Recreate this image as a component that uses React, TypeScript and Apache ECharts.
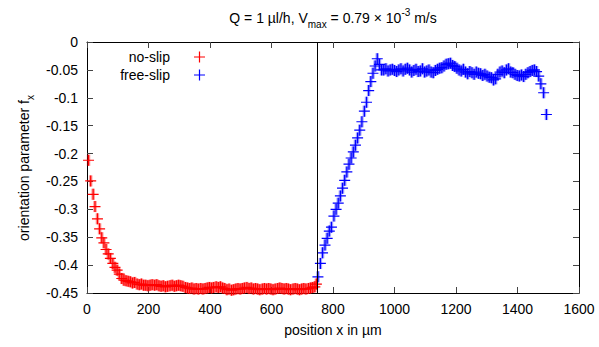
import React, { useEffect, useRef } from "react";
import * as echarts from "echarts";

const noSlipX = [5, 12, 20, 26, 34, 41, 48, 55, 62, 69, 76, 84, 91, 98, 105, 113, 120, 127, 134, 141, 148, 155, 163, 170, 177, 184, 191, 198, 205, 212, 220, 227, 234, 241, 248, 255, 262, 270, 277, 284, 291, 298, 305, 312, 320, 327, 334, 341, 348, 355, 362, 370, 377, 384, 391, 398, 405, 412, 420, 427, 434, 441, 448, 455, 462, 470, 477, 484, 491, 498, 505, 512, 520, 527, 534, 541, 548, 555, 562, 570, 577, 584, 591, 598, 605, 612, 620, 627, 634, 641, 648, 655, 662, 670, 677, 684, 691, 698, 705, 712, 720, 727, 734, 741, 746];
const noSlipY = [-0.212, -0.249, -0.273, -0.295, -0.317, -0.335, -0.351, -0.36, -0.372, -0.38, -0.388, -0.397, -0.404, -0.409, -0.416, -0.424, -0.427, -0.428, -0.429, -0.43, -0.432, -0.431, -0.434, -0.435, -0.434, -0.436, -0.436, -0.437, -0.436, -0.435, -0.436, -0.435, -0.437, -0.438, -0.437, -0.439, -0.438, -0.437, -0.436, -0.438, -0.437, -0.436, -0.437, -0.438, -0.44, -0.441, -0.442, -0.441, -0.443, -0.442, -0.443, -0.442, -0.443, -0.442, -0.441, -0.44, -0.441, -0.44, -0.439, -0.44, -0.439, -0.441, -0.442, -0.444, -0.443, -0.445, -0.444, -0.443, -0.442, -0.443, -0.442, -0.441, -0.44, -0.442, -0.441, -0.443, -0.442, -0.443, -0.444, -0.443, -0.442, -0.443, -0.442, -0.443, -0.444, -0.443, -0.442, -0.441, -0.442, -0.443, -0.442, -0.443, -0.444, -0.443, -0.442, -0.443, -0.444, -0.443, -0.442, -0.443, -0.442, -0.441, -0.44, -0.439, -0.434];

const freeSlipX = [751, 759, 766, 774, 781, 788, 795, 803, 810, 817, 824, 831, 838, 845, 852, 859, 866, 873, 880, 887, 894, 902, 909, 916, 923, 930, 937, 944, 951, 958, 965, 972, 979, 986, 993, 1000, 1007, 1014, 1021, 1028, 1035, 1042, 1049, 1056, 1063, 1070, 1077, 1084, 1091, 1098, 1105, 1112, 1119, 1126, 1133, 1140, 1147, 1154, 1161, 1168, 1175, 1182, 1189, 1196, 1203, 1210, 1217, 1224, 1231, 1238, 1245, 1252, 1259, 1266, 1273, 1280, 1287, 1294, 1301, 1308, 1315, 1322, 1329, 1336, 1343, 1350, 1357, 1364, 1371, 1378, 1385, 1392, 1399, 1406, 1413, 1420, 1427, 1434, 1441, 1448, 1455, 1462, 1469, 1476, 1485, 1494];
const freeSlipY = [-0.421, -0.397, -0.378, -0.364, -0.352, -0.339, -0.332, -0.312, -0.3, -0.289, -0.276, -0.262, -0.248, -0.233, -0.219, -0.208, -0.197, -0.185, -0.172, -0.158, -0.143, -0.124, -0.108, -0.087, -0.071, -0.056, -0.043, -0.03, -0.04, -0.05, -0.05, -0.048, -0.052, -0.05, -0.049, -0.051, -0.053, -0.05, -0.048, -0.052, -0.049, -0.047, -0.05, -0.054, -0.051, -0.049, -0.053, -0.052, -0.048, -0.054, -0.052, -0.05, -0.054, -0.055, -0.051, -0.049, -0.047, -0.046, -0.043, -0.04, -0.039, -0.038, -0.042, -0.044, -0.047, -0.05, -0.052, -0.049, -0.054, -0.057, -0.053, -0.055, -0.058, -0.054, -0.056, -0.057, -0.06, -0.058, -0.061, -0.063, -0.064, -0.068, -0.066, -0.058, -0.054, -0.052, -0.055, -0.05, -0.048, -0.054, -0.055, -0.058, -0.06, -0.061, -0.059, -0.062, -0.058, -0.055, -0.053, -0.051, -0.05, -0.053, -0.061, -0.075, -0.091, -0.13];

const ERR_NO_SLIP = 0.01;
const ERR_FREE_SLIP = 0.01;
const SLIP_BOUNDARY = 750;

const xTicks = { min: 0, max: 1600, interval: 200 };
const yTicks = { min: -0.45, max: 0, interval: 0.05 };

const FONT = "Liberation Sans, Arial, sans-serif";
const FS = 14;
const CROSS = "path://M0,4.45H10V5.55H0Z M4.45,0H5.55V10H4.45Z";

function pairs(xs: number[], ys: number[]) {
  return xs.map((x, i) => [x, ys[i]]);
}

function errorBars(data: number[][], err: number, color: string) {
  return {
    type: "custom",
    silent: true,
    data,
    z: 1,
    renderItem: (_p: any, api: any) => {
      const x = api.value(0);
      const y = api.value(1);
      const a = api.coord([x, y - err]);
      const b = api.coord([x, y + err]);
      return {
        type: "line",
        shape: { x1: a[0], y1: a[1], x2: b[0], y2: b[1] },
        style: { stroke: color, lineWidth: 3.5 },
      };
    },
  };
}

export default function App() {
  const ref = useRef<HTMLDivElement>(null);
  useEffect(() => {
    document.body.style.margin = "0";
    const chart = echarts.init(ref.current!, null, { renderer: "svg" });
    const noSlip = pairs(noSlipX, noSlipY);
    const freeSlip = pairs(freeSlipX, freeSlipY);
    const axisLine = { show: true, onZero: false, lineStyle: { color: "#000", width: 1 } };
    const tick = { show: true, inside: true, length: 6, lineStyle: { color: "#444", width: 1 } };
    const label = { fontSize: FS, color: "#000", fontFamily: FONT };
    chart.setOption({
      animation: false,
      backgroundColor: "#fff",
      grid: { left: 87, right: 20, top: 42, bottom: 54 },
      graphic: [
        {
          type: "text",
          x: 333,
          y: 18,
          style: {
            text: "{a|Q = 1 µl/h, V}{s|max}{a| = 0.79 × 10}{p|-3}{a| m/s}",
            align: "center",
            verticalAlign: "middle",
            fill: "#000",
            rich: {
              a: { fontSize: FS, fontFamily: FONT, lineHeight: 22, fill: "#000" },
              s: { fontSize: 10, fontFamily: FONT, lineHeight: 22, verticalAlign: "bottom", fill: "#000" },
              p: { fontSize: 10, fontFamily: FONT, lineHeight: 22, verticalAlign: "top", fill: "#000" },
            },
          },
        },
        {
          type: "text",
          x: 24,
          y: 168,
          rotation: Math.PI / 2,
          style: {
            text: "{a|orientation parameter f}{s|x}",
            align: "center",
            verticalAlign: "middle",
            fill: "#000",
            rich: {
              a: { fontSize: FS, fontFamily: FONT, lineHeight: 22, fill: "#000" },
              s: { fontSize: 10, fontFamily: FONT, lineHeight: 22, verticalAlign: "bottom", fill: "#000" },
            },
          },
        },
      ],
      legend: [
        {
          data: ["no-slip"],
          right: 394,
          top: 50,
          padding: 0,
          align: "right",
          itemWidth: 11,
          itemHeight: 11,
          textStyle: { fontSize: FS, fontFamily: FONT, color: "#000", padding: [0, 19, 0, 0] },
        },
        {
          data: ["free-slip"],
          right: 394,
          top: 68,
          padding: 0,
          align: "right",
          itemWidth: 11,
          itemHeight: 11,
          textStyle: { fontSize: FS, fontFamily: FONT, color: "#000", padding: [0, 19, 0, 0] },
        },
      ],
      xAxis: [
        {
          type: "value",
          ...xTicks,
          position: "bottom",
          axisLine,
          axisTick: tick,
          axisLabel: { ...label, margin: 9, formatter: (v: number) => String(v) },
          splitLine: { show: false },
          name: "position x in µm",
          nameLocation: "middle",
          nameGap: 30,
          nameTextStyle: { fontSize: FS, fontFamily: FONT, color: "#000" },
        },
        {
          type: "value",
          ...xTicks,
          position: "top",
          axisLine,
          axisTick: tick,
          axisLabel: { show: false },
          splitLine: { show: false },
        },
      ],
      yAxis: [
        {
          type: "value",
          ...yTicks,
          position: "left",
          axisLine,
          axisTick: tick,
          axisLabel: { ...label, margin: 9, formatter: (v: number) => String(Math.round(v * 100) / 100) },
          splitLine: { show: false },
        },
        {
          type: "value",
          ...yTicks,
          position: "right",
          axisLine,
          axisTick: tick,
          axisLabel: { show: false },
          splitLine: { show: false },
        },
      ],
      series: [
        errorBars(noSlip, ERR_NO_SLIP, "rgba(255,0,0,0.4)"),
        errorBars(freeSlip, ERR_FREE_SLIP, "rgba(0,0,255,0.35)"),
        {
          name: "no-slip",
          type: "scatter",
          data: noSlip,
          symbol: CROSS,
          symbolSize: 11,
          itemStyle: { color: "#ff0000", opacity: 1 },
          z: 3,
          markLine: {
            silent: true,
            symbol: ["none", "none"],
            label: { show: false },
            lineStyle: { color: "#000", width: 1, type: "solid" },
            data: [{ xAxis: SLIP_BOUNDARY }],
          },
        },
        {
          name: "free-slip",
          type: "scatter",
          data: freeSlip,
          symbol: CROSS,
          symbolSize: 11,
          itemStyle: { color: "#0000ff", opacity: 1 },
          z: 3,
        },
      ],
    });
    return () => chart.dispose();
  }, []);
  return <div ref={ref} style={{ width: 599, height: 347 }} />;
}
